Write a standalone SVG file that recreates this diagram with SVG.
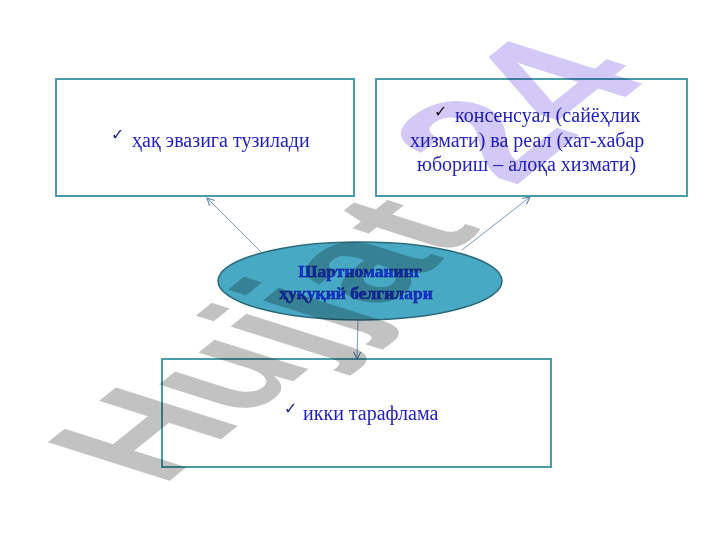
<svg xmlns="http://www.w3.org/2000/svg" width="720" height="540" viewBox="0 0 720 540">
<defs>
<style>
.box{fill:#ffffff;stroke:#4a9ca6;stroke-width:2}
.t{font-family:"Liberation Serif","Times New Roman",serif;font-size:20px;fill:#2222b8}
.ck{font-family:"DejaVu Sans",sans-serif;font-size:16px;fill:#1a1a8a}
.et{font-family:"Liberation Serif","Times New Roman",serif;font-size:17.5px;font-weight:bold;fill:#1530d8;stroke:#0a1880;stroke-width:0.4;text-anchor:middle}
.con{stroke:#5a7ea8;stroke-width:0.8;fill:none}
.wm{font-family:"Liberation Sans",Arial,sans-serif;font-weight:bold;font-size:100px;mix-blend-mode:multiply}
</style>
<marker id="arr" viewBox="0 0 10 10" refX="9" refY="5" markerWidth="9" markerHeight="9" orient="auto" markerUnits="userSpaceOnUse">
<path d="M1,1 L9,5 L1,9" fill="none" stroke="#5a7ea8" stroke-width="1.2"/>
</marker>
</defs>
<rect width="720" height="540" fill="#ffffff"/>
<g id="node-left">
<rect class="box" x="56" y="79" width="298" height="117"/>
<text x="111" y="140" class="ck">✓</text>
<text x="132" y="147" class="t">ҳақ эвазига тузилади</text>
</g>
<g id="node-right">
<rect class="box" x="376" y="79" width="311" height="117"/>
<text x="434" y="117" class="ck" style="fill:#111">✓</text>
<text x="455" y="122" class="t">консенсуал (сайёҳлик</text>
<text x="410" y="147" class="t">хизмати) ва реал (хат-хабар</text>
<text x="417" y="171" class="t">юбориш – алоқа хизмати)</text>
</g>
<g id="node-bottom">
<rect class="box" x="162" y="359" width="389" height="108"/>
<text x="284" y="414" class="ck">✓</text>
<text x="303" y="420" class="t">икки тарафлама</text>
</g>
<g id="connectors">
<line class="con" x1="261" y1="252" x2="207" y2="198" marker-end="url(#arr)"/>
<line class="con" x1="462" y1="250" x2="530" y2="197" marker-end="url(#arr)"/>
<line class="con" x1="358" y1="320" x2="357" y2="359" marker-end="url(#arr)"/>
</g>
<g id="node-center">
<ellipse cx="360" cy="281" rx="142" ry="39" fill="#48a9c4" stroke="#2a6a78" stroke-width="1.5"/>
<text x="360" y="277" class="et">Шартноманинг</text>
<text x="356" y="299" class="et">ҳуқуқий белгилари</text>
</g>
<g id="watermark">
<text class="wm" transform="translate(10,0) matrix(1.156 -0.933 1.77 0.56 152 487)" fill="#c2c2c2">Hujjat</text>
<text class="wm" transform="translate(40,-40) matrix(1.156 -0.933 1.77 0.56 152 487)" x="277.8" style="font-size:110px" fill="#d3c9f7">24</text>
</g>
</svg>
